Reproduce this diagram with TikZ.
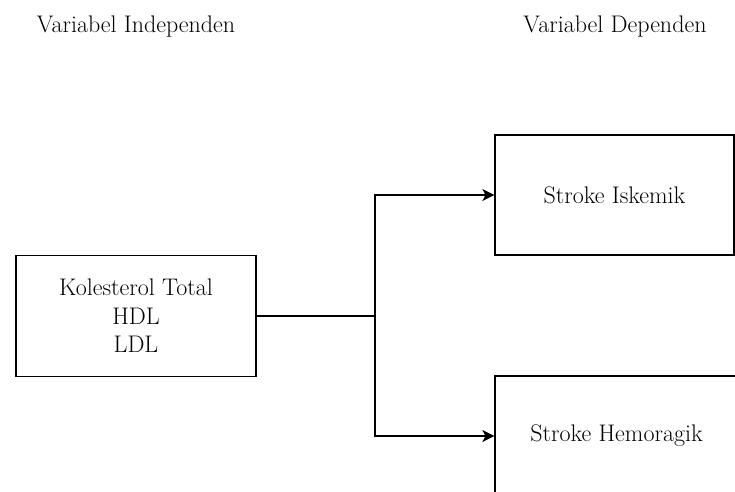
\documentclass[tikz,border=0pt]{standalone}
\usetikzlibrary{arrows.meta}
\begin{document}
\begin{tikzpicture}[x=1pt, y=-1pt,
					kotak/.style={rectangle, draw, line width=1.2pt, align=center, inner sep=0pt},
					tulisan/.style={font=\fontsize{24}{28.5}\selectfont},
					panah/.style={-{Stealth[length=12pt, width=12pt, inset=3pt]}, line width=1.2pt}]
\useasboundingbox (0,0) rectangle (735,491);
\fill[white] (0,0) rectangle (735,491);

\node[tulisan, anchor=base] (judulA) at (136,32) {Variabel Independen};
\node[tulisan, anchor=base] (judulB) at (615,32) {Variabel Dependen};

\node[kotak, tulisan, minimum width=240pt, minimum height=121pt] (kol) at (136,316)
    {Kolesterol Total\\HDL\\LDL};
\node[kotak, tulisan, minimum width=239pt, minimum height=120pt] (iskemik) at (614.5,195)
    {Stroke Iskemik};
\node[kotak, tulisan, minimum width=243pt, minimum height=120pt] (hemoragik) at (616.5,436)
    {Stroke Hemoragik};

\coordinate (cabang) at (375,316);
\draw[line width=1.2pt] (kol) -- (cabang);
\draw[panah] (cabang) |- (iskemik.west);
\draw[panah] (cabang) |- (hemoragik.west);
\end{tikzpicture}
\end{document}
